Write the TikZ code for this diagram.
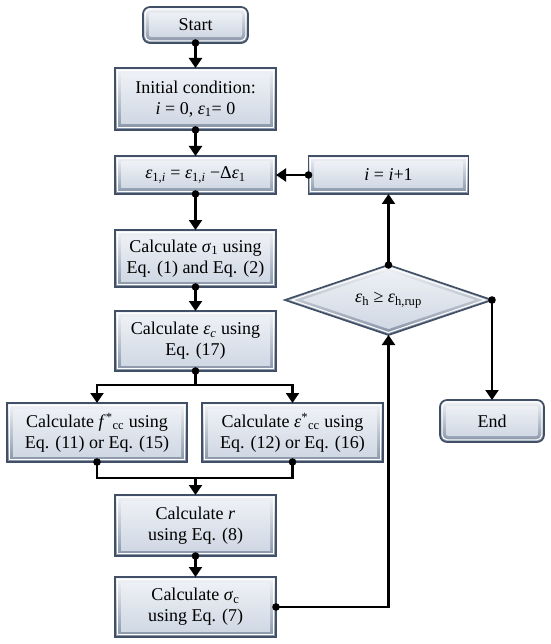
\documentclass[tikz,border=0pt]{standalone}
\usepackage{fontspec}
\setmainfont{Liberation Serif}
\usetikzlibrary{arrows.meta,shapes.geometric}
\definecolor{bdr}{HTML}{415066}
\definecolor{beveltop}{HTML}{F2F4F7}
\definecolor{bevelbot}{HTML}{8794A7}
\definecolor{facetop}{HTML}{EDF0F5}
\definecolor{facebot}{HTML}{D0D8E4}
\newcommand{\ppbb}{path picture bounding box}
\tikzset{
  txt/.style={font=\fontsize{18}{21}\selectfont, align=center, text=black},
  boxbase/.style={txt, draw=bdr, line width=1.7pt, inner sep=0pt, outer sep=0pt},
  box/.style={boxbase, rectangle,
    path picture={
      \shade[top color=beveltop, bottom color=bevelbot] (\ppbb.south west) rectangle (\ppbb.north east);
      \draw[white, line width=1pt] ([shift={(2.2pt,2.2pt)}]\ppbb.south west) rectangle ([shift={(-2.2pt,-2.2pt)}]\ppbb.north east);
      \shade[top color=facetop, bottom color=facebot] ([shift={(6pt,6pt)}]\ppbb.south west) rectangle ([shift={(-6pt,-6pt)}]\ppbb.north east);
    }},
  rbox/.style={boxbase, rectangle, rounded corners=7pt,
    path picture={
      \shade[top color=beveltop, bottom color=bevelbot] (\ppbb.south west) rectangle (\ppbb.north east);
      \draw[white, line width=1pt, rounded corners=5pt] ([shift={(2.2pt,2.2pt)}]\ppbb.south west) rectangle ([shift={(-2.2pt,-2.2pt)}]\ppbb.north east);
      \shade[top color=facetop, bottom color=facebot, rounded corners=2pt] ([shift={(6pt,6pt)}]\ppbb.south west) rectangle ([shift={(-6pt,-6pt)}]\ppbb.north east);
    }},
  decbox/.style={boxbase, shape=diamond, aspect=3,
    path picture={
      \shade[top color=beveltop, bottom color=bevelbot] (\ppbb.south west) rectangle (\ppbb.north east);
      \draw[white, line width=1pt] ([yshift=-2.5pt]\ppbb.north) -- ([xshift=-7pt]\ppbb.east) -- ([yshift=2.5pt]\ppbb.south) -- ([xshift=7pt]\ppbb.west) -- cycle;
      \shade[top color=facetop, bottom color=facebot] ([yshift=-6pt]\ppbb.north) -- ([xshift=-17pt]\ppbb.east) -- ([yshift=6pt]\ppbb.south) -- ([xshift=17pt]\ppbb.west) -- cycle;
    }},
  conn/.style={line width=2.1pt, black, -{Triangle[width=13pt,length=10pt]}},
  plain/.style={line width=2.1pt, black},
}
\newcommand{\dotat}[1]{\fill[black] (#1) circle (3.8pt);}
\newcommand{\ee}{\textit{ε}}
\begin{document}
\begin{tikzpicture}[x=1pt,y=-1pt]
\useasboundingbox (0,0) rectangle (550,644);
% nodes
\node[rbox, minimum width=105pt, minimum height=36pt] (start) at (195.5,25) {Start};
\node[box, minimum width=161pt, minimum height=62pt] (init) at (195.5,99) {Initial condition:\\\textit{i} = 0, \ee\textsubscript{1}= 0};
\node[box, minimum width=161pt, minimum height=38pt] (eps) at (195.5,175) {\ee\textsubscript{1,\textit{i}} = \ee\textsubscript{1,\textit{i}} −Δ\ee\textsubscript{1}};
\node[box, minimum width=160pt, minimum height=38pt] (inc) at (388.5,175) {\textit{i} = \textit{i}+1};
\node[box, minimum width=161pt, minimum height=57pt] (sig1) at (195.5,258.5) {Calculate \textit{σ}\textsubscript{1} using\\Eq. (1) and Eq. (2)};
\node[box, minimum width=161pt, minimum height=60pt] (epsc) at (195.5,341) {Calculate \ee\textsubscript{\textit{c}} using\\Eq. (17)};
\node[box, minimum width=180pt, minimum height=59pt] (fcc) at (97,432.5) {Calculate \textit{f}\textsuperscript{*}\textsubscript{cc} using\\Eq. (11) or Eq. (15)};
\node[box, minimum width=181pt, minimum height=59pt] (ecc) at (292.5,432.5) {Calculate \ee\textsuperscript{*}\textsubscript{cc} using\\Eq. (12) or Eq. (16)};
\node[box, minimum width=161pt, minimum height=61pt] (r) at (195.5,525.5) {Calculate \textit{r}\\using Eq. (8)};
\node[box, minimum width=161pt, minimum height=60pt] (sigc) at (195.5,607) {Calculate \textit{σ}\textsubscript{c}\\using Eq. (7)};
\node[decbox, minimum width=207pt, minimum height=70pt] (dec) at (388.5,300) {\ee\textsubscript{h} ≥ \ee\textsubscript{h,rup}};
\node[rbox, minimum width=104pt, minimum height=42pt] (end) at (492,421) {End};
\coordinate (split) at (195.5,385);
\coordinate (merge) at (195.5,478);
% connectors
\draw[conn] (start.south) -- (init.north); \dotat{start.south}
\draw[conn] (init.south) -- (eps.north); \dotat{init.south}
\draw[conn] (eps.south) -- (sig1.north); \dotat{eps.south}
\draw[conn] (sig1.south) -- (epsc.north); \dotat{sig1.south}
\draw[plain] (epsc.south) -- (split);
\draw[conn] (split) -| (fcc.north);
\draw[conn] (split) -| (ecc.north);
\dotat{epsc.south}
\draw[plain] (fcc.south) |- (merge) -| (ecc.south);
\draw[conn] (merge) -- (r.north);
\dotat{fcc.south} \dotat{ecc.south}
\draw[conn] (r.south) -- (sigc.north); \dotat{r.south}
\draw[conn] (sigc.east) -| (dec.south); \dotat{sigc.east}
\draw[conn] (dec.north) -- (inc.south); \dotat{dec.north}
\draw[conn] (inc.west) -- (eps.east); \dotat{inc.west}
\draw[conn] (dec.east) -| (end.north); \dotat{dec.east}
\end{tikzpicture}
\end{document}
